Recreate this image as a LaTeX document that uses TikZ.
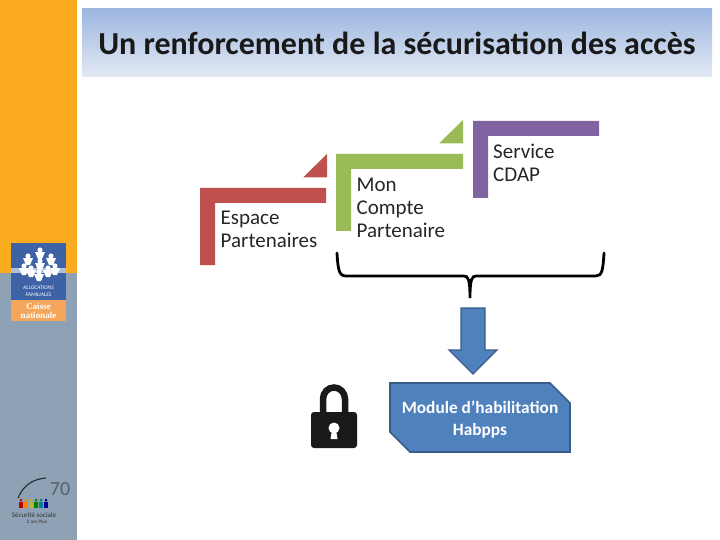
\documentclass[tikz,border=0pt]{standalone}
\usepackage{fontspec}
\setmainfont{Carlito}
\newfontfamily\logoserif{Liberation Serif}
\usepackage{xcolor}
\usetikzlibrary{positioning,shapes.misc,calc}
\definecolor{sideorange}{HTML}{FAAB1E}
\definecolor{sidegray}{HTML}{8FA2B5}
\definecolor{logoblue}{HTML}{3D62A6}
\definecolor{logoorange}{HTML}{F4A75C}
\definecolor{bandtop}{HTML}{9DB6DF}
\definecolor{bandmid}{HTML}{B4C7E6}
\definecolor{bandlow}{HTML}{E2E9F4}
\definecolor{bandred}{HTML}{C0504D}
\definecolor{bandgreen}{HTML}{9BBB59}
\definecolor{bandpurple}{HTML}{8064A2}
\definecolor{boxblue}{HTML}{4F81BD}
\definecolor{boxedge}{HTML}{385D8A}
\tikzset{
    steplabel/.style={anchor=north west, align=left, font=\fontsize{21}{23}\selectfont, inner sep=0pt, text=black!85},
    person/.style={fill=white},
}
\begin{document}
\begin{tikzpicture}[x=1pt, y=-1pt]
    \useasboundingbox (0,0) rectangle (720,540);

    % Side bar
    \fill[sideorange] (0,0) rectangle (77,273);
    \fill[sidegray] (0,273) rectangle (77,540);

    % Family logo
    \fill[logoblue] (11,243) rectangle (66,300);
    \fill[logoorange] (11,300) rectangle (66,321);
    \fill[white!60!logoblue] (11,268) rectangle (66,273);
    \foreach \px/\py in {40/250, 28/256, 51/256, 40/261, 24/266, 55/266, 31/268, 48/268, 39/272} {
        \fill[person] (\px,\py) circle (2.6pt);
        \fill[person] (\px-5,\py+2) -- (\px+5,\py+2) -- (\px+2,\py+9) -- (\px-2,\py+9) -- cycle;
    }
    \node[font=\fontsize{5.5}{6.5}\selectfont\itshape, text=white, align=center, inner sep=0pt] (alloc) at (38.5,291) {ALLOCATIONS\\FAMILIALES};
    \node[font=\logoserif\fontsize{9}{8.5}\selectfont\bfseries, text=white, align=center, inner sep=0pt] (caisse) at (38.5,311) {Caisse\\nationale};

    % Anniversary logo
    \draw[black!70!sidegray, line width=1.2pt] (18,498) .. controls (24,484) and (34,479) .. (46,478);
    \foreach \px/\pc in {21/red!70!black, 26/orange, 31/yellow!70!black, 36/green!50!black, 41/teal, 46/blue!60!black} {
        \fill[\pc] (\px,500) circle (1.5pt);
        \fill[\pc] (\px-1.8,502) rectangle (\px+1.8,508);
    }
    \node[font=\fontsize{20}{20}\selectfont, text=black!40!sidegray, inner sep=0pt] (seventy) at (60,489) {70};
    \node[font=\fontsize{7}{8}\selectfont, text=black!80, inner sep=0pt] (secu) at (34,515) {Sécurité sociale};
    \node[font=\fontsize{5}{6}\selectfont, text=black!80, inner sep=0pt] (plus) at (37,522) {2 ans Plus};

    % Title band
    \shade[top color=bandtop, middle color=bandmid, bottom color=bandlow] (82,9) rectangle (712,77);
    \node[font=\fontsize{32}{36}\selectfont\bfseries, text=black!90, inner sep=0pt] (title) at (397,43) {Un renforcement de la sécurisation des accès};

    % Steps
    \fill[bandred] (200,188) -- (326,188) -- (326,203) -- (215,203) -- (215,265) -- (200,265) -- cycle;
    \fill[bandred] (303,177.5) -- (327,154) -- (327,177.5) -- cycle;
    \node[steplabel] (espace) at (220.5,211) {Espace\\Partenaires};

    \fill[bandgreen] (336,154) -- (463,154) -- (463,169) -- (351,169) -- (351,231) -- (336,231) -- cycle;
    \fill[bandgreen] (439,143.5) -- (463,120) -- (463,143.5) -- cycle;
    \node[steplabel] (compte) at (356.5,178) {Mon\\Compte\\Partenaire};

    \fill[bandpurple] (473,121) -- (599,121) -- (599,136) -- (488,136) -- (488,198) -- (473,198) -- cycle;
    \node[steplabel] (service) at (493,144) {Service\\CDAP};

    % Brace
    \coordinate (braceleft) at (337,253);
    \coordinate (braceright) at (604,253);
    \coordinate (bracetip) at (470,298);
    \draw[line width=2.8pt, line cap=round] (braceleft) .. controls (338,270) and (339,276) .. (346,276)
        -- (464,276) .. controls (468,276) and (470,279) .. (bracetip)
        .. controls (470,279) and (472,276) .. (476,276)
        -- (596,276) .. controls (602,276) and (603,270) .. (braceright);

    % Block arrow
    \filldraw[fill=boxblue, draw=boxedge, line width=1.4pt] (461,308) -- (485,308) -- (485,350) -- (497,350)
        -- (473,374) -- (449,350) -- (461,350) -- cycle;

    % Lock
    \draw[black!90, line width=6.5pt] (323,414) -- (323,399) arc (180:360:11 and 11.5) -- (345,414);
    \fill[black!90, rounded corners=3pt] (311,412) rectangle (357,448);
    \fill[white] (334,428) circle (5.5pt);
    \fill[white] (332,430) -- (336,430) -- (337.5,439) -- (330.5,439) -- cycle;

    % Module box
    \node[chamfered rectangle, chamfered rectangle corners={north east,south west},
        chamfered rectangle xsep=10pt, chamfered rectangle ysep=10pt,
        fill=boxblue, draw=boxedge, line width=1.6pt, minimum width=180pt, minimum height=69pt,
        inner sep=0pt, text=white, align=center, font=\fontsize{17.3}{22}\selectfont\bfseries] (module) at (480,417.5)
        {\rule{0pt}{16pt}Module d’habilitation\\Habpps};
\end{tikzpicture}
\end{document}
